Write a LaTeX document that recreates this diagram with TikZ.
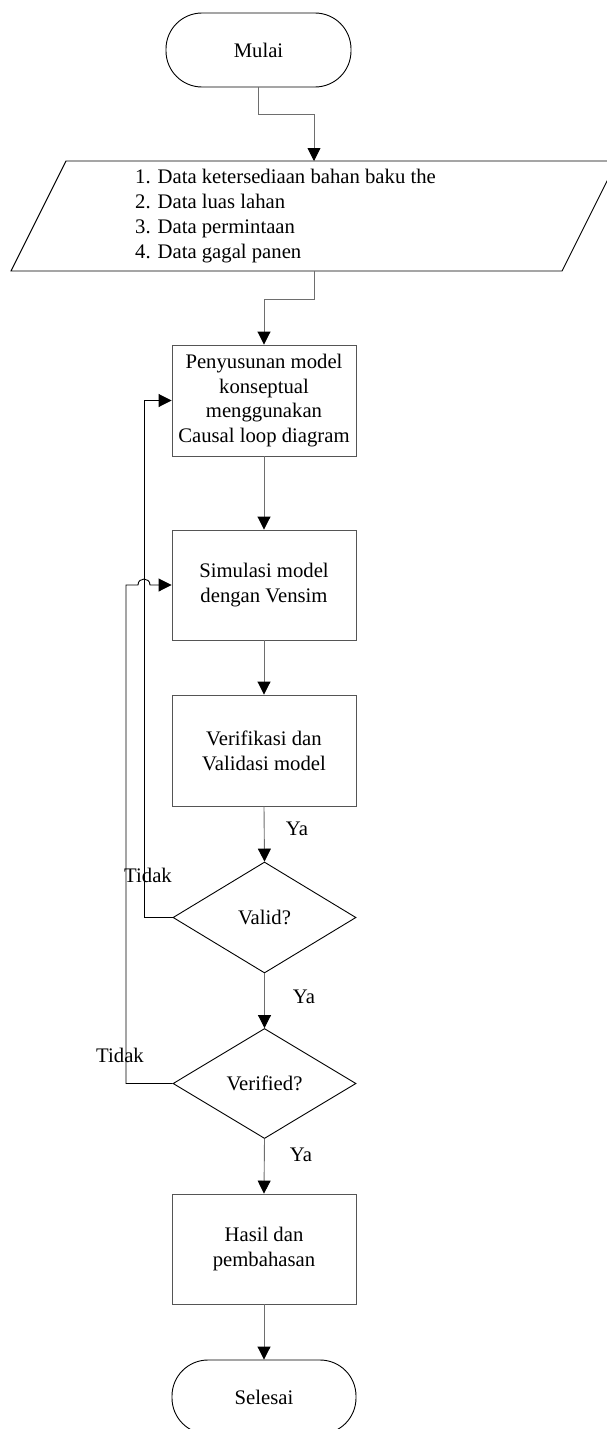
\documentclass[tikz,border=0pt]{standalone}
\usepackage{fontspec}
\setmainfont{Liberation Serif}
\usetikzlibrary{shapes.geometric,arrows.meta}
\definecolor{boxgray}{HTML}{555555}
\definecolor{linegray}{HTML}{6E6E6E}
\newcommand\dfont{\fontsize{20.7}{24.8}\selectfont}
\begin{document}
\begin{tikzpicture}[x=1pt,y=-1pt,
  every node/.style={font=\dfont},
  proc/.style={draw=boxgray, line width=0.9pt, minimum width=184pt, minimum height=111pt, inner sep=0pt, align=center},
  term/.style={draw=black, line width=0.9pt, rounded corners=36pt, minimum width=185pt, minimum height=74pt, inner sep=0pt},
  dec/.style={draw=black, line width=0.9pt, diamond, minimum width=183pt, minimum height=111pt, inner sep=0pt},
  flow/.style={draw=linegray, line width=0.9pt, -{Triangle[length=13pt,width=13pt,color=black]}},
  back/.style={draw=black, line width=0.9pt, -{Triangle[length=13pt,width=13pt,color=black]}},
  lbl/.style={inner sep=0pt}
]
\fill[white] (0,0) rectangle (606,1429);
\useasboundingbox (0,0) rectangle (606,1429);

% terminals and process boxes
\node[term] (mulai) at (258.5,50) {Mulai};
\node[proc] (p1) at (264,400.5) {Penyusunan model\\konseptual\\menggunakan\\Causal loop diagram};
\node[proc,minimum height=110pt] (p2) at (264,585) {Simulasi model\\dengan Vensim};
\node[proc] (p3) at (264,750.5) {Verifikasi dan\\Validasi model};
\node[dec] (valid) at (264.5,917.5) {Valid?};
\node[dec,minimum height=110pt] (verif) at (264.5,1083.5) {Verified?};
\node[proc,minimum height=110pt] (p4) at (264,1249) {Hasil dan\\pembahasan};
\node[term,minimum width=184pt] (selesai) at (264,1397) {Selesai};

% input parallelogram
\draw[black, line width=0.9pt] (11,271) -- (66,161) -- (617,161) -- (562,271) -- cycle;
\node[anchor=west, align=left, inner sep=0pt] (intext) at (135,216) {1. Data ketersediaan bahan baku the\\2. Data luas lahan\\3. Data permintaan\\4. Data gagal panen};
\coordinate (inTop) at (314,161);
\coordinate (inBot) at (314,271);

% main flow
\coordinate (m2) at (314,114);
\coordinate (b1) at (314,299);
\draw[flow] (mulai.south) |- (m2) -- (inTop);
\draw[flow] (inBot) -- (b1) -| (p1.north);
\draw[flow] (p1.south) -- (p2.north);
\draw[flow] (p2.south) -- (p3.north);
\draw[flow] (p3.south) -- (valid.north);
\draw[flow] (valid.south) -- (verif.north);
\draw[flow] (verif.south) -- (p4.north);
\draw[flow] (p4.south) -- (selesai.north);

% feedback loops
\coordinate (lx) at (144,0);
\coordinate (ox) at (126,0);
\coordinate (h1) at (138,585);
\coordinate (h2) at (150,585);
\draw[back] (valid.west) -- (valid.west -| lx) |- (p1.west);
\draw[back] (verif.west) -- (verif.west -| ox) |- (h1) .. controls +(0,-8) and +(0,-8) .. (h2) -- (p2.west);

% labels
\node[lbl] (ya1) at (297,829) {Ya};
\node[lbl] (ya2) at (304,997) {Ya};
\node[lbl] (ya3) at (301,1155) {Ya};
\node[lbl] (td1) at (148,875) {Tidak};
\node[lbl] (td2) at (120,1055) {Tidak};
\end{tikzpicture}
\end{document}
